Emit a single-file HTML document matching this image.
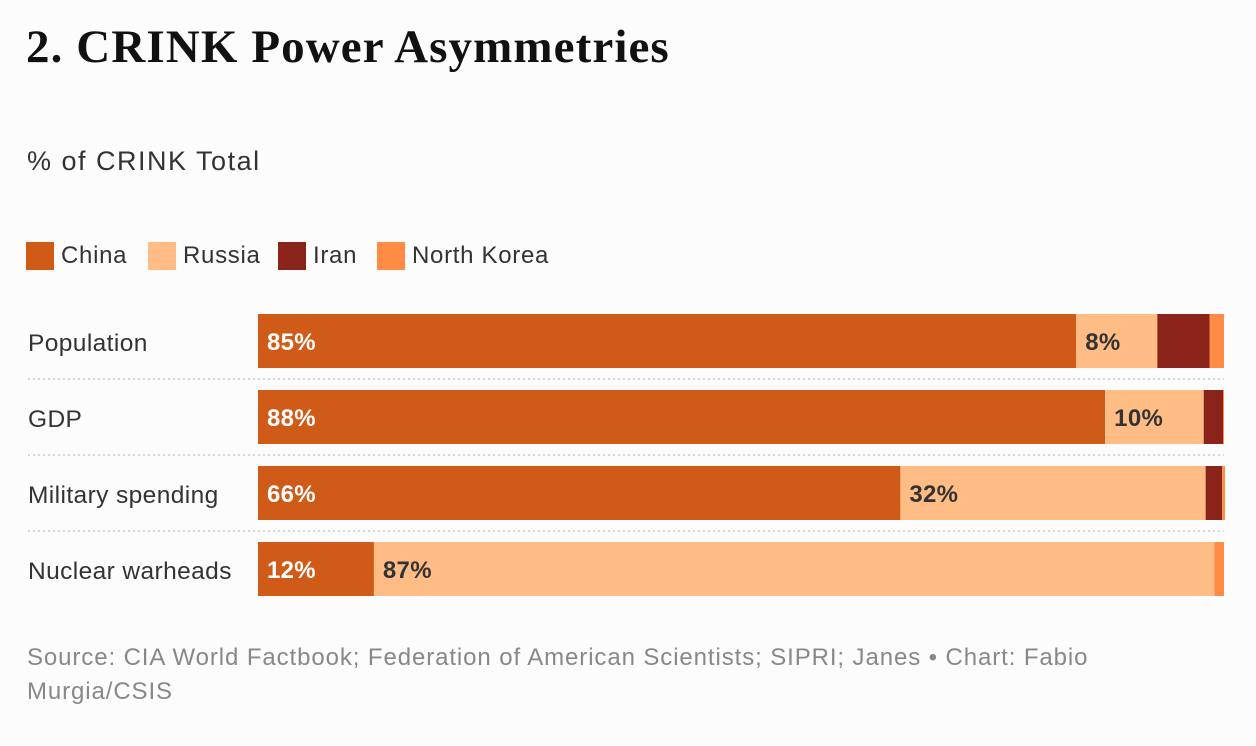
<!DOCTYPE html>
<html><head><meta charset="utf-8"><style>
body{margin:0;background:#fcfcfc;width:1256px;height:746px;overflow:hidden;font-family:"Liberation Sans",sans-serif}
#title{position:absolute;left:26px;top:20px;font:bold 47px "Liberation Serif",serif;color:#111;letter-spacing:1.1px}
#sub{position:absolute;left:27px;top:146px;font-size:27px;color:#333;letter-spacing:1.5px}
.leg{position:absolute;top:242px;font-size:24px;color:#333;display:flex;align-items:center;letter-spacing:0.7px}
.leg i{display:inline-block;width:28px;height:28px;margin-right:7px}
#src{position:absolute;left:27px;top:641px;font-size:24px;color:#888;line-height:34px;width:1100px;letter-spacing:0.9px}
</style></head><body>
<div id="title">2. CRINK Power Asymmetries</div>
<div id="sub">% of CRINK Total</div>
<div class="leg" style="left:26px"><i style="background:#d05a17"></i>China</div>
<div class="leg" style="left:148px"><i style="background:#ffbd85"></i>Russia</div>
<div class="leg" style="left:278px"><i style="background:#8a2319"></i>Iran</div>
<div class="leg" style="left:377px"><i style="background:#ff8b45"></i>North Korea</div>
<svg id="chart" width="1256" height="746" style="position:absolute;left:0;top:0"></svg>
<div id="src">Source: CIA World Factbook; Federation of American Scientists; SIPRI; Janes • Chart: Fabio Murgia/CSIS</div>
<script>
const categories=["Population","GDP","Military spending","Nuclear warheads"];
const china=[84.7,87.7,66.5,12.0];
const russia=[8.4,10.2,31.6,87.0];
const iran=[5.4,2.0,1.7,0];
const northKorea=[1.5,0.1,0.3,1.0];
const labelsChina=["85%","88%","66%","12%"];
const labelsRussia=["8%","10%","32%","87%"];
const series=[[china,"#d05a17",labelsChina,"#fff"],[russia,"#ffbd85",labelsRussia,"#333"],[iran,"#8a2319",null],[northKorea,"#ff8b45",null]];
const svg=document.getElementById('chart');const NS="http://www.w3.org/2000/svg";
const x0=258,x1=1224;const xs=v=>(x1-x0)*v/100;
const y=i=>314+i*76;const bh=54;
function mk(t,a){const e=document.createElementNS(NS,t);for(const k in a)e.setAttribute(k,a[k]);svg.appendChild(e);return e;}
categories.forEach((c,i)=>{
 const t=mk('text',{x:28,y:y(i)+bh/2+10,'font-size':24.5,'letter-spacing':0.4,fill:'#333','font-family':'Liberation Sans, sans-serif'});t.textContent=c;
 
 
 if(i>0){const l=mk('line',{x1:28,x2:x1,y1:y(i)-11,y2:y(i)-11,stroke:'#ccc','stroke-width':1.5,'stroke-dasharray':'2,3'});
 
 }
 let cx=x0;
 series.forEach((s,j)=>{const w=xs(s[0][i]);
  const r=mk('rect',{x:cx,y:y(i),width:w,height:bh,fill:s[1]});
  
  
  if(s[2]){const tt=mk('text',{x:cx+9,y:y(i)+bh/2+9,'font-size':24,'letter-spacing':0.3,'font-weight':'bold',fill:s[3],'font-family':'Liberation Sans, sans-serif'});tt.textContent=s[2][i];
  
  }
  cx+=w;});
});
</script>
</body></html>
